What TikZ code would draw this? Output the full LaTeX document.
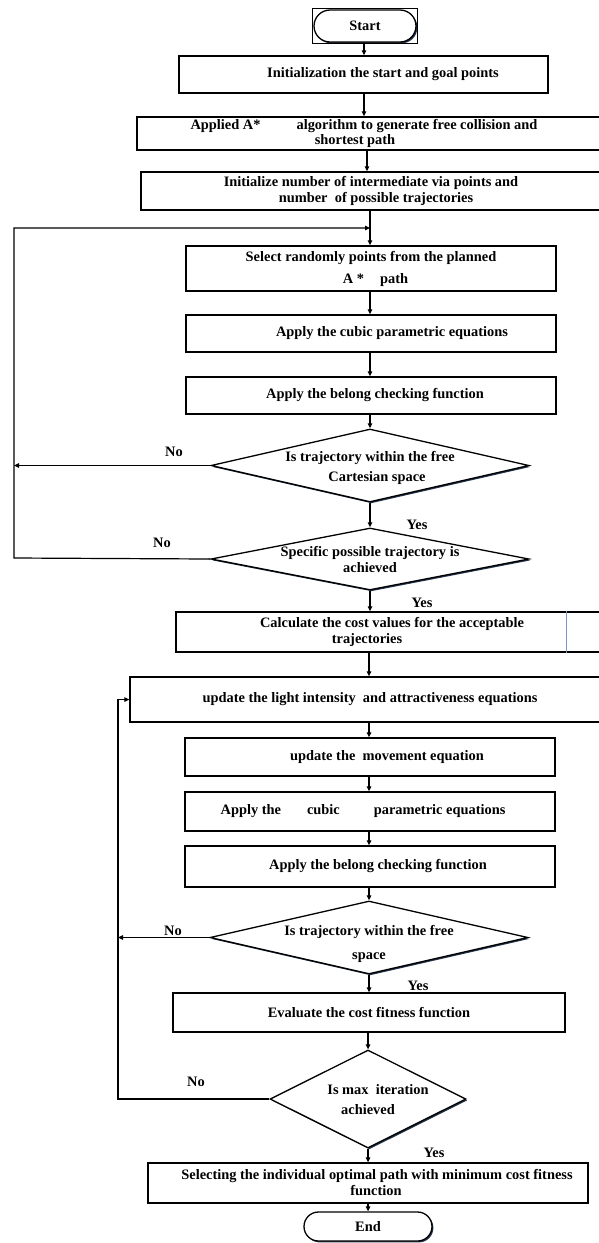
\documentclass[tikz,border=0pt]{standalone}
\usepackage{fontspec}
\setmainfont{Liberation Serif}
\usetikzlibrary{arrows.meta,shapes.geometric,shapes.misc,shadows}
\definecolor{shd}{RGB}{35,50,75}
\definecolor{thinblue}{RGB}{120,150,200}
\newcommand{\shl}[2]{\hspace*{#1}#2\hspace*{-#1}}
\begin{document}
\begin{tikzpicture}[x=1pt,y=-1pt,
  font=\fontsize{14.4}{16}\selectfont\bfseries,
  shad/.style={drop shadow={shadow xshift=1.4pt, shadow yshift=-1.4pt, fill=shd, opacity=1}},
  plainbox/.style={draw, rectangle, line width=1.3pt, fill=white, inner sep=0pt, align=center},
  box/.style={plainbox, shad},
  dec/.style={draw, diamond, line width=1.3pt, fill=white, inner sep=0pt, shad},
  term/.style={draw, rounded rectangle, line width=1.3pt, fill=white, inner sep=0pt, shad},
  arr/.style={-{Triangle[length=5pt,width=4.5pt]}, line width=1.2pt},
  lab/.style={inner sep=0pt},
  dtext/.style={inner sep=0pt, align=center}
]
\useasboundingbox (0,0) rectangle (599,1243);
\clip (0,0) rectangle (599,1243);

\coordinate (ax1) at (364,0);
\coordinate (axm) at (367,0);
\coordinate (ax2) at (370,0);
\coordinate (ax3) at (369,0);
\coordinate (l1t) at (14,228);
\coordinate (l1b) at (14,558);
\coordinate (l2) at (118,0);

% nodes
\node[term, minimum width=102pt, minimum height=32pt] (start) at (365,26) {Start};
\coordinate (snw) at (start.west |- start.north);
\coordinate (sse) at (start.east |- start.south);
\draw[line width=1pt] ([shift={(-1,-1)}]snw) rectangle ([shift={(1,1)}]sse);

\node[box, minimum width=369pt, minimum height=37pt] (b1) at (363.5,74.5)
  {\shl{19.5pt}{Initialization the start and goal points}};
\node[plainbox, minimum width=483pt, minimum height=33pt] (b2) at (378.5,133.5)
  {\shl{-14.5pt}{Applied A*\hspace{36pt}algorithm to generate free collision and}\\[-1pt]\shl{-23.5pt}{shortest path}};
\node[box, minimum width=479pt, minimum height=38pt] (b3) at (380.5,191)
  {\shl{-9.5pt}{Initialize number of intermediate via points and}\\\shl{-4.5pt}{number~~of possible trajectories}};
\node[box, minimum width=370pt, minimum height=45pt] (b4) at (371,268.5)
  {Select randomly points from the planned\\[6pt]\shl{4.5pt}{A *\hspace{16pt}path}};
\node[box, minimum width=370pt, minimum height=37pt] (b5) at (371,333.5)
  {\shl{21pt}{Apply the cubic parametric equations}};
\node[box, minimum width=370pt, minimum height=37pt] (b6) at (371,395.5)
  {\shl{4pt}{Apply the belong checking function}};
\node[dec, minimum width=318pt, minimum height=73pt,
  label={[dtext, yshift=-2.5pt]center:{Is trajectory within the free\\[4pt]\shl{7pt}{Cartesian space}}}] (d1) at (370,465.5) {};
\node[dec, minimum width=318pt, minimum height=62pt,
  label={[dtext]center:{Specific possible trajectory is\\achieved}}] (d2) at (370,559) {};
\node[box, minimum width=444pt, minimum height=40pt] (b7) at (398,632)
  {\shl{-6pt}{Calculate the cost values for the acceptable}\\\shl{-31pt}{trajectories}};
\draw[thinblue, line width=0.6pt] ([xshift=168pt]b7.north) -- ([xshift=168pt]b7.south);
\node[box, minimum width=490pt, minimum height=45pt] (b8) at (375,699.5)
  {\shl{-5pt}{update the light intensity~~and attractiveness equations}};
\node[box, minimum width=370pt, minimum height=38pt] (b9) at (370,757)
  {\shl{17pt}{update the~~movement equation}};
\node[box, minimum width=370pt, minimum height=39pt] (b10) at (370,811.5)
  {\shl{-7pt}{Apply the\hspace{26pt}cubic\hspace{34pt}parametric equations}};
\node[box, minimum width=370pt, minimum height=41pt] (b11) at (370,866.5)
  {\shl{8pt}{Apply the belong checking function}};
\node[dec, minimum width=318pt, minimum height=73pt,
  label={[dtext, yshift=-6.5pt]center:{Is trajectory within the free\\[8pt]space}}] (d3) at (369,937.5) {};
\node[box, minimum width=392pt, minimum height=39pt] (b12) at (369,1012.5)
  {Evaluate the cost fitness function};
\node[dec, minimum width=196pt, minimum height=98pt,
  label={[dtext, yshift=-1pt]center:{\shl{10pt}{Is max~~iteration}\\[4pt]achieved}}] (d4) at (368,1099) {};
\node[box, minimum width=440pt, minimum height=40pt] (b13) at (368,1183)
  {\shl{9pt}{Selecting the individual optimal path with minimum cost fitness}\\\shl{8pt}{function}};
\node[term, minimum width=128pt, minimum height=29pt] (end) at (368,1226.5) {End};

% main flow
\draw[arr] ([yshift=-1pt]start.south -| ax1) -- (b1.north -| ax1);
\draw[arr] (b1.south -| ax1) -- (b2.north -| ax1);
\draw[arr] (b2.south -| axm) -- (b3.north -| axm);
\draw[arr] (b3.south -| ax2) -- (b4.north -| ax2);
\draw[arr] (b4.south -| ax2) -- (b5.north -| ax2);
\draw[arr] (b5.south -| ax2) -- (b6.north -| ax2);
\draw[arr] (b6.south -| ax2) -- (d1.north);
\draw[arr] (d1.south) -- (d2.north);
\draw[arr] (d2.south) -- (b7.north -| ax2);
\draw[arr] (b7.south -| ax3) -- (b8.north -| ax3);
\draw[arr] (b8.south -| ax3) -- (b9.north -| ax3);
\draw[arr] (b9.south -| ax3) -- (b10.north -| ax3);
\draw[arr] (b10.south -| ax3) -- (b11.north -| ax3);
\draw[arr] (b11.south -| ax3) -- (d3.north);
\draw[arr] (d3.south) -- (b12.north -| d3.south);
\draw[arr] (b12.south -| d4.north) -- (d4.north);
\draw[arr] (d4.south) -- (b13.north -| d4.south);
\draw[arr] (b13.south -| end.north) -- (end.north);

% loop 1
\draw[arr] (d1.west) -- (d1.west -| l1t);
\draw[arr] (d2.west) -- (l1b) -- (l1t) -- (l1t -| ax2);
% loop 2
\draw[arr] (d3.west) -- (d3.west -| l2);
\draw[arr] (d4.west) -- (d4.west -| l2) -- (b8.west -| l2) -- (b8.west);

% labels
\node[lab] (no1) at (174,452) {No};
\node[lab] (no2) at (162,543) {No};
\node[lab] (yes1) at (417,525) {Yes};
\node[lab] (yes2) at (422,603) {Yes};
\node[lab] (no3) at (173,931) {No};
\node[lab] (yes3) at (418,986) {Yes};
\node[lab] (no4) at (196,1082) {No};
\node[lab] (yes4) at (434,1153) {Yes};
\end{tikzpicture}
\end{document}
